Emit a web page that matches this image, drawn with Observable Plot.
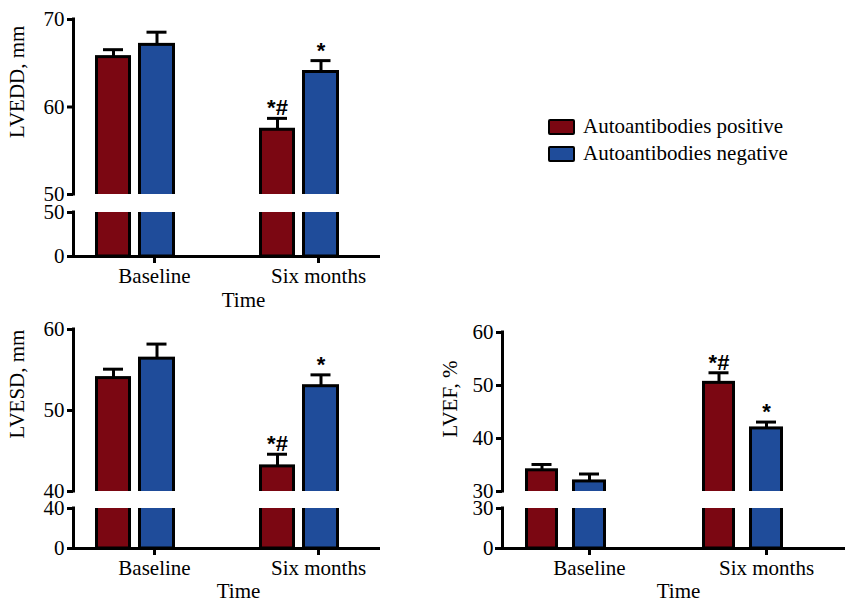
<!DOCTYPE html>
<html><head><meta charset="utf-8">
<script src="https://cdn.jsdelivr.net/npm/d3@7"></script>
<script src="https://cdn.jsdelivr.net/npm/@observablehq/plot@0.6"></script>
<style>
body{margin:0;background:#fff;}
#chart{position:relative;width:845px;height:602px;font-family:"Liberation Serif","Times New Roman",serif;overflow:hidden;}
#chart svg{position:absolute;}
.lg{position:absolute;left:548px;display:flex;align-items:center;font-size:21px;color:#000;white-space:nowrap;}
.sw{width:27px;height:16px;box-sizing:border-box;border:2.5px solid #000;border-radius:2px;margin-right:8px;}
</style></head><body><div id="chart"></div>
<script>
const times = ["Baseline", "Six months"];
const groups = ["Autoantibodies positive", "Autoantibodies negative"];
const colors = ["#7b0712", "#1f4c9a"];

// LVEDD, mm
const lveddPos = [65.7, 57.4];
const lveddNeg = [67.1, 64.0];
const lveddPosErr = [0.85, 1.3];
const lveddNegErr = [1.45, 1.3];
const lveddPosSig = ["", "*#"];
const lveddNegSig = ["", "*"];
const lveddBreak = 50, lveddMax = 70;
const lveddUpperTicks = [50, 60, 70];
const lveddLowerTicks = [0, 50];

// LVESD, mm
const lvesdPos = [54.0, 43.1];
const lvesdNeg = [56.4, 53.0];
const lvesdPosErr = [1.1, 1.5];
const lvesdNegErr = [1.8, 1.4];
const lvesdPosSig = ["", "*#"];
const lvesdNegSig = ["", "*"];
const lvesdBreak = 40, lvesdMax = 60;
const lvesdUpperTicks = [40, 50, 60];
const lvesdLowerTicks = [0, 40];

// LVEF, %
const lvefPos = [34.0, 50.5];
const lvefNeg = [31.9, 41.9];
const lvefPosErr = [1.1, 1.9];
const lvefNegErr = [1.4, 1.2];
const lvefPosSig = ["", "*#"];
const lvefNegSig = ["", "*"];
const lvefBreak = 30, lvefMax = 60;
const lvefUpperTicks = [30, 40, 50, 60];
const lvefLowerTicks = [0, 30];

function rowsOf(pos, neg, posErr, negErr, posSig, negSig) {
  return times.flatMap((t, i) => [
    {time: t, group: groups[0], value: pos[i], err: posErr[i], sig: posSig[i]},
    {time: t, group: groups[1], value: neg[i], err: negErr[i], sig: negSig[i]}
  ]);
}

const layoutAB = {svgLeft: 0, width: 385, marginLeft: 73, marginRight: 5, range: [95, 339], band: 80, pad: 84 / 164,
  bars: [[0, 36], [43, 80]], tickDx: 19, axisExtL: 6, axisExtR: 0, labelDx: -56};
const layoutC = {svgLeft: 420, width: 425, marginLeft: 82, marginRight: 35, range: [105, 363], band: 81, pad: 96 / 177,
  bars: [[0, 33], [47, 81]], tickDx: 23.5, axisExtL: 7, axisExtR: 35, labelDx: -52};

const panels = [
  {label: "LVEDD, mm", rows: rowsOf(lveddPos, lveddNeg, lveddPosErr, lveddNegErr, lveddPosSig, lveddNegSig),
   brk: lveddBreak, max: lveddMax, upperTicks: lveddUpperTicks, lowerTicks: lveddLowerTicks,
   L: {...layoutAB, timeDx: 16.5, timeDy: 50, labelDy: 31,
       upper: {svgTop: 0, frameTop: 19, frameBottom: 194}, lower: {svgTop: 200, frameTop: 212, frameBottom: 256}}},
  {label: "LVESD, mm", rows: rowsOf(lvesdPos, lvesdNeg, lvesdPosErr, lvesdNegErr, lvesdPosSig, lvesdNegSig),
   brk: lvesdBreak, max: lvesdMax, upperTicks: lvesdUpperTicks, lowerTicks: lvesdLowerTicks,
   L: {...layoutAB, timeDx: 11.5, timeDy: 49, labelDy: 28,
       upper: {svgTop: 310, frameTop: 329, frameBottom: 491}, lower: {svgTop: 497, frameTop: 508, frameBottom: 548}}},
  {label: "LVEF, %", rows: rowsOf(lvefPos, lvefNeg, lvefPosErr, lvefNegErr, lvefPosSig, lvefNegSig),
   brk: lvefBreak, max: lvefMax, upperTicks: lvefUpperTicks, lowerTicks: lvefLowerTicks,
   L: {...layoutC, timeDx: 22, timeDy: 49, labelDy: 25.5,
       upper: {svgTop: 310, frameTop: 332, frameBottom: 491}, lower: {svgTop: 497, frameTop: 508, frameBottom: 548}}}
];

const chart = document.getElementById("chart");

function segment(p, part) {
  const L = p.L;
  const upper = part === "upper";
  const S = upper ? L.upper : L.lower;
  const dom = upper ? [p.brk, p.max] : [0, p.brk];
  const ticks = upper ? p.upperTicks : p.lowerTicks;
  const mb = upper ? 6 : 54;
  const c0 = L.range[0] + L.band / 2;
  const marks = [];
  groups.forEach((g, s) => {
    const data = p.rows.filter(d => d.group === g);
    const b = L.bars[s];
    const mid = (b[0] + b[1]) / 2;
    marks.push(Plot.barY(data, {
      x: "time", y1: dom[0], y2: "value", fill: colors[s], stroke: "black", strokeWidth: 3,
      insetLeft: b[0] + 1.5, insetRight: L.band - b[1] + 1.5,
      insetBottom: upper ? -8 : 0, clip: true
    }));
    if (upper) {
      marks.push(Plot.ruleX(data, {x: "time", y1: "value", y2: d => d.value + d.err, dx: mid - L.band / 2, strokeWidth: 3}));
      marks.push(Plot.tickY(data, {x: "time", y: d => d.value + d.err, strokeWidth: 3,
        insetLeft: mid - 10, insetRight: L.band - mid - 10}));
      marks.push(Plot.text(data, {x: "time", y: d => d.value + d.err, text: "sig", dx: mid - L.band / 2, dy: -3,
        lineAnchor: "bottom", fontSize: 22, fontWeight: "bold", fontFamily: "'Liberation Sans', Arial, sans-serif"}));
    }
  });
  marks.push(Plot.ruleX([times[0]], {x: d => d, y1: dom[0], y2: dom[1], dx: L.marginLeft - c0, strokeWidth: 3, strokeLinecap: "square"}));
  marks.push(Plot.axisY({ticks, tickSize: 6, tickPadding: 3, strokeWidth: 3, label: null, tickFormat: d => String(d)}));
  if (upper) {
    marks.push(Plot.text([p.label], {text: d => d, frameAnchor: "left", rotate: -90, dx: L.labelDx, dy: L.labelDy}));
  } else {
    marks.push(Plot.ruleY([0], {strokeWidth: 3, insetLeft: -L.axisExtL, insetRight: -L.axisExtR}));
    marks.push(Plot.axisX({tickSize: 7, tickPadding: 5, strokeWidth: 3, dx: L.tickDx, label: null}));
    marks.push(Plot.text(["Time"], {text: d => d, frameAnchor: "bottom", dx: L.timeDx, dy: L.timeDy}));
  }
  const svg = Plot.plot({
    width: L.width,
    height: S.frameBottom - S.svgTop + mb,
    marginLeft: L.marginLeft, marginRight: L.marginRight,
    marginTop: S.frameTop - S.svgTop, marginBottom: mb,
    x: {type: "band", domain: times, range: L.range, paddingInner: L.pad, paddingOuter: 0, axis: null},
    y: {domain: dom, axis: null},
    style: "background:transparent;overflow:visible;font-family:'Liberation Serif','Times New Roman',serif;font-size:21px;color:black;",
    marks
  });
  svg.style.left = L.svgLeft + "px";
  svg.style.top = S.svgTop + "px";
  chart.appendChild(svg);
}

panels.forEach(p => { segment(p, "lower"); segment(p, "upper"); });

// Legend
groups.forEach((g, i) => {
  const row = document.createElement("div");
  row.className = "lg";
  row.style.top = (114 + i * 27) + "px";
  const sw = document.createElement("div");
  sw.className = "sw";
  sw.style.background = colors[i];
  const tx = document.createElement("span");
  tx.textContent = g;
  row.appendChild(sw); row.appendChild(tx);
  chart.appendChild(row);
});
</script></body></html>
